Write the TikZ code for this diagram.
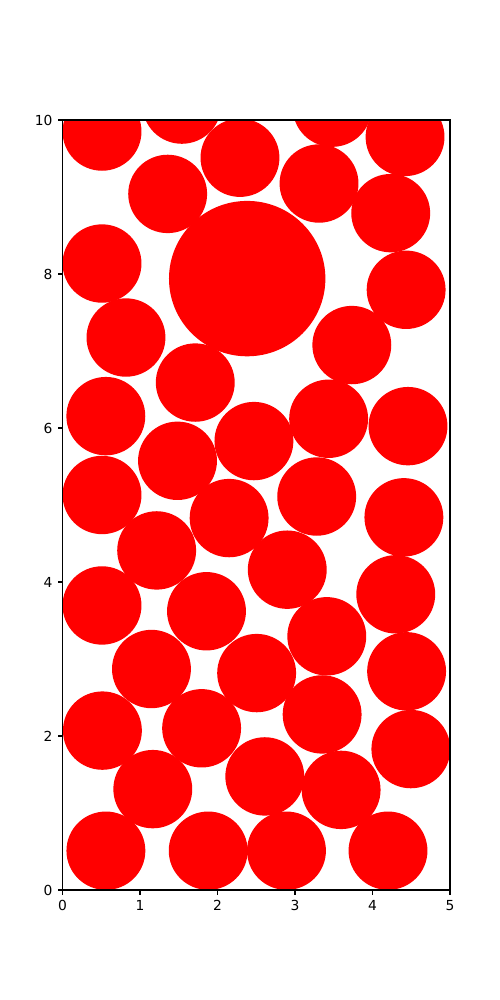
\documentclass[tikz,border=0pt]{standalone}
\usepackage{fontspec}
\setmainfont{DejaVu Sans}
\begin{document}
\begin{tikzpicture}[x=19.685mm,y=19.558mm,
  disc/.style={fill=red,draw=red,line width=1pt},
  spine/.style={line width=0.8pt,black},
  tickx/.style={anchor=north,inner sep=0pt,font=\fontsize{10}{12}\selectfont},
  ticky/.style={anchor=east,inner sep=0pt,font=\fontsize{10}{12}\selectfont}]
\useasboundingbox (-15.875mm,-27.94mm) rectangle (111.125mm,226.06mm);
\begin{scope}
\clip (0,0) rectangle (5,10);
\foreach \cx/\cy in {
0.56/0.51, 1.88/0.51, 2.89/0.51, 4.20/0.51,
1.165/1.31, 2.61/1.475, 3.595/1.30, 4.495/1.83,
0.515/2.07, 1.795/2.10, 3.35/2.28,
1.148/2.87, 2.505/2.817, 4.44/2.84,
3.41/3.295, 0.51/3.695, 1.858/3.62, 4.30/3.84,
2.90/4.16, 1.215/4.41, 2.15/4.83, 4.405/4.84,
0.51/5.13, 3.28/5.11, 1.484/5.574, 2.47/5.83,
0.559/6.154, 3.434/6.12, 4.458/6.024, 1.713/6.59,
0.819/7.175, 3.733/7.077, 4.434/7.795, 0.51/8.136,
1.357/9.04, 3.31/9.175, 4.235/8.79, 2.29/9.51,
0.51/9.85, 4.42/9.78, 1.54/10.20, 3.48/10.16}
  \fill[disc] (\cx,\cy) circle [radius=0.5];
\fill[disc] (2.383,7.94) circle [radius=1.0];
\end{scope}
\draw[spine] (0,0) rectangle (5,10);
\foreach \t in {0,1,2,3,4,5} {
  \draw[spine] (\t,0) -- ++(0,-3.5pt);
  \node[tickx] (xl\t) at ([yshift=-7pt]\t,0) {\t};
}
\foreach \t in {0,2,4,6,8,10} {
  \draw[spine] (0,\t) -- ++(-3.5pt,0);
  \node[ticky] (yl\t) at ([xshift=-7pt]0,\t) {\t};
}
\end{tikzpicture}
\end{document}
